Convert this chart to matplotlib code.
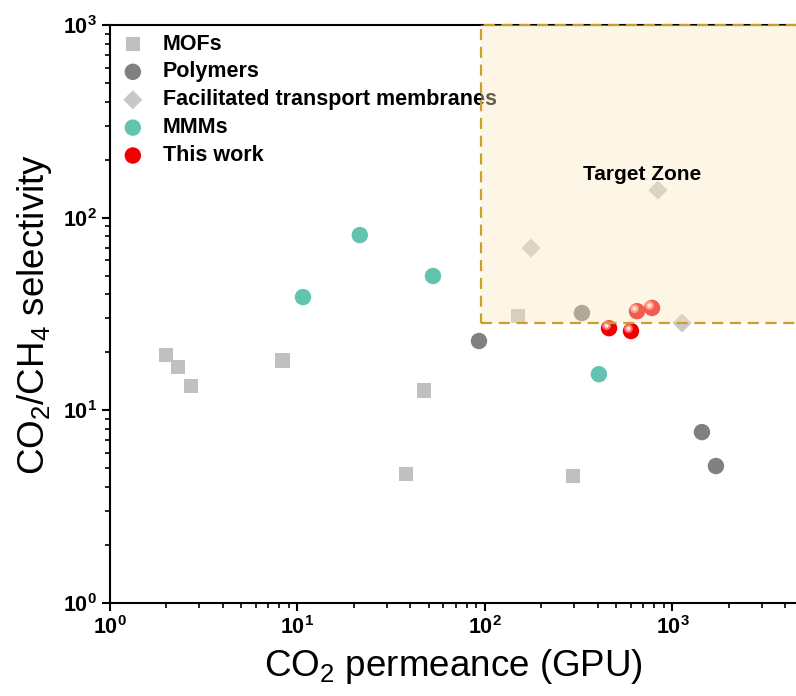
import numpy as np
import matplotlib
matplotlib.use('Agg')
import matplotlib.pyplot as plt
from matplotlib.patches import Rectangle
from matplotlib.transforms import offset_copy
from matplotlib.ticker import LogLocator, FuncFormatter, NullFormatter

plt.rcParams['font.family'] = ['Liberation Sans', 'DejaVu Sans']
plt.rcParams['mathtext.fontset'] = 'custom'
plt.rcParams['mathtext.rm'] = 'Liberation Sans'
plt.rcParams['mathtext.it'] = 'Liberation Sans'
plt.rcParams['mathtext.bf'] = 'Liberation Sans:bold'

# datos (permeancia GPU, selectividad)
mof_x = [1.99, 2.30, 2.70, 8.3, 37.9, 47.3, 150, 295]
mof_y = [19.4, 16.8, 13.4, 18.2, 4.67, 12.7, 30.9, 4.56]

pol_x = [92.9, 329, 1436, 1706]
pol_y = [22.9, 32.0, 7.71, 5.14]

ftm_x = [176, 837, 1125]
ftm_y = [69.5, 139, 28.4]

mmm_x = [10.7, 21.5, 52.8, 405]
mmm_y = [38.7, 81.2, 49.8, 15.4]

tw_x = [459, 601, 647, 778]
tw_y = [26.7, 25.8, 32.7, 34.0]

zona_x0 = 95
zona_y0 = 28.5

fig = plt.figure(figsize=(7.96, 6.96), dpi=100)
ax = fig.add_axes([0.1382, 0.1336, 0.8618, 0.8305])

ax.scatter(mof_x, mof_y, marker='s', s=110, color='#C0C0C0', edgecolors='none', label='MOFs', zorder=2)
ax.scatter(pol_x, pol_y, marker='o', s=140, color='#808080', edgecolors='none', label='Polymers', zorder=2)
ax.scatter(ftm_x, ftm_y, marker='D', s=95, color='#C8C8C8', edgecolors='none', label='Facilitated transport membranes', zorder=2)
ax.scatter(mmm_x, mmm_y, marker='o', s=140, color='#62C4B0', edgecolors='none', label='MMMs', zorder=2)
ax.scatter(tw_x, tw_y, marker='o', s=140, color='#F00000', edgecolors='none', label='This work', zorder=2)
# brillo de las esferas
brillo = offset_copy(ax.transData, fig=fig, x=-2.5, y=2.5, units='dots')
ax.scatter(tw_x, tw_y, marker='o', s=40, color='#FF7070', edgecolors='none', transform=brillo, zorder=2.1)
ax.scatter(tw_x, tw_y, marker='o', s=10, color='#FFE0E0', edgecolors='none', transform=brillo, zorder=2.2)

ax.set_xscale('log')
ax.set_yscale('log')
ax.set_xlim(1, 4560)
ax.set_ylim(1, 1000)

# zona objetivo
ax.add_patch(Rectangle((zona_x0, zona_y0), 1e5, 1000 - zona_y0, facecolor='#FAE8BF', alpha=0.4,
                       edgecolor='none', zorder=3))
ax.add_patch(Rectangle((zona_x0, zona_y0), 1e5, 1000 - zona_y0, facecolor='none',
                       edgecolor='#C9A02C', linewidth=1.6, linestyle=(0, (5, 3)), zorder=3.1, clip_on=False))
ax.text(687, 168, 'Target Zone', fontsize=15, fontweight='bold', ha='center', va='center', zorder=4)

ax.spines['right'].set_visible(False)
for s in ['left', 'bottom', 'top']:
    ax.spines[s].set_linewidth(1.5)

fmt = FuncFormatter(lambda v, p: r'$\mathbf{10^{%d}}$' % int(round(np.log10(v))))
for eje in [ax.xaxis, ax.yaxis]:
    eje.set_major_locator(LogLocator(base=10, numticks=10))
    eje.set_minor_locator(LogLocator(base=10, subs=np.arange(2, 10), numticks=10))
    eje.set_major_formatter(fmt)
    eje.set_minor_formatter(NullFormatter())
ax.tick_params(which='major', direction='out', length=6, width=1.5, labelsize=15.5)
ax.tick_params(which='minor', direction='out', length=3.5, width=1.2)

ax.set_xlabel('CO$_2$ permeance (GPU)', fontsize=26.5, labelpad=6)
ax.set_ylabel('CO$_2$/CH$_4$ selectivity', fontsize=26.5, labelpad=6)

leg = ax.legend(loc='upper left', bbox_to_anchor=(0.005, 1.0), frameon=False, fontsize=15.5,
                handletextpad=0.9, labelspacing=0.32, borderaxespad=0.0, borderpad=0.4, handlelength=1.0)
for t in leg.get_texts():
    t.set_fontweight('bold')
leg.set_zorder(1.5)

fig.savefig('out.png', dpi=100)
